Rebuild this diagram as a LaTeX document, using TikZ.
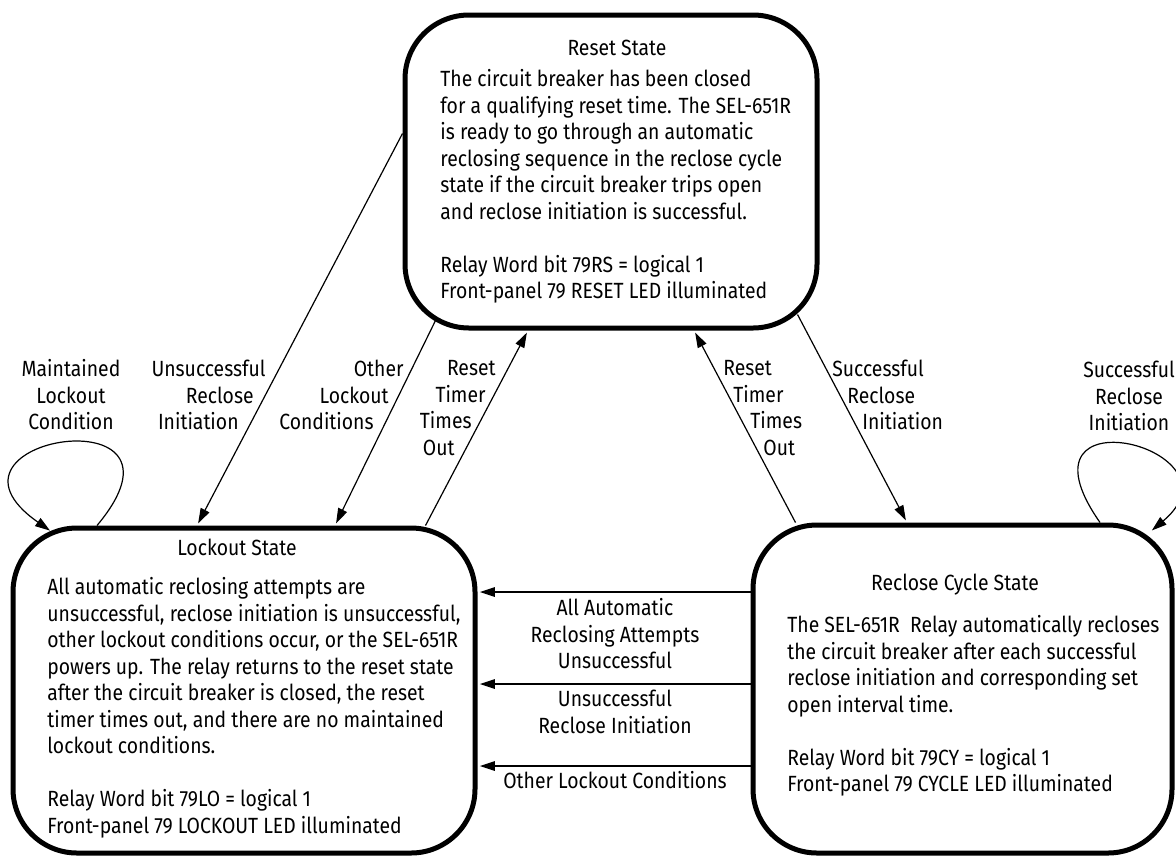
\documentclass[tikz,border=0pt]{standalone}
\usepackage{fontspec}
\setmainfont{Fira Sans}[FakeStretch=0.88]
\usetikzlibrary{arrows.meta}

\newcommand{\txtsize}{\fontsize{11pt}{13.25pt}\selectfont}
\tikzset{
  statebox/.style={draw, line width=2.5pt, rounded corners=32pt, inner sep=0pt},
  trans/.style={-{Triangle[length=7.5pt,width=4.8pt]}, line width=0.6pt, shorten >=1.2pt},
  lbl/.style={inner sep=0pt, font=\txtsize},
}

\begin{document}
\begin{tikzpicture}[x=0.5pt,y=-0.5pt]
\useasboundingbox (0,0) rectangle (1176,857);
%
% the three states
\node[statebox, minimum width=206pt, minimum height=156.5pt] (reset) at (611,171.5) {};
\node[statebox, minimum width=231pt, minimum height=162.5pt] (lockout) at (244,690.5) {};
\node[statebox, minimum width=209.5pt, minimum height=164pt] (recl) at (962.5,689) {};
%
\node[lbl] (resettitle) at (617,48) {Reset State};
\node[lbl, align=left, anchor=north west] (resetbody) at (440,69) {The circuit breaker has been closed\\for a qualifying reset time. The SEL-651R\\is ready to go through an automatic\\reclosing sequence in the reclose cycle\\state if the circuit breaker trips open\\and reclose initiation is successful.\\[13.25pt]Relay Word bit 79RS = logical 1\\Front-panel 79 RESET LED illuminated};
%
\node[lbl] (locktitle) at (237,547) {Lockout State};
\node[lbl, align=left, anchor=north west] (lockbody) at (47,577) {All automatic reclosing attempts are\\unsuccessful, reclose initiation is unsuccessful,\\other lockout conditions occur, or the SEL-651R\\powers up. The relay returns to the reset state\\after the circuit breaker is closed, the reset\\timer times out, and there are no maintained\\lockout conditions.\\[13.25pt]Relay Word bit 79LO = logical 1\\Front-panel 79 LOCKOUT LED illuminated};
%
\node[lbl] (recltitle) at (955,585) {Reclose Cycle State};
\node[lbl, align=left, anchor=north west] (reclbody) at (787,615) {The SEL-651R\ \ Relay automatically recloses\\the circuit breaker after each successful\\reclose initiation and corresponding set\\open interval time.\\[13.25pt]Relay Word bit 79CY = logical 1\\Front-panel 79 CYCLE LED illuminated};
%
% self loops
\coordinate (lkout) at ([xshift=-73.5pt]lockout.north);
\coordinate (lkin) at (52,532);
\draw[trans] (lkout) .. controls +(50:87.5pt) and +(145:82.5pt) .. (lkin);
\coordinate (rcout) at ([xshift=68.75pt]recl.north);
\coordinate (rcin) at (1150,532);
\draw[trans] (rcout) .. controls +(125:82.5pt) and +(40:65pt) .. (rcin);
%
% transitions between the states
\coordinate (unsA) at ([yshift=19pt]reset.west);
\draw[trans] (unsA) -- ([xshift=-23.5pt]lockout.north);
\coordinate (othA) at ([shift={(16.5pt,5pt)}]reset.south west);
\draw[trans] (othA) -- ([xshift=45.5pt]lockout.north);
\coordinate (rtL) at ([xshift=-26pt]lockout.north east);
\draw[trans] (rtL) -- ([xshift=-41.5pt]reset.south);
\coordinate (rtR) at ([xshift=22.5pt]recl.north west);
\draw[trans] (rtR) -- ([xshift=41.5pt]reset.south);
\coordinate (sucA) at ([shift={(-11pt,8pt)}]reset.south east);
\draw[trans] (sucA) -- ([xshift=-27.75pt]recl.north);
%
% macro: arrow from reclose cycle back to lockout, at height
\newcommand{\backarrow}[2]{
  \coordinate (#1) at ([yshift=#2]recl.west);
  \draw[trans] (#1) -- (lockout.east |- #1);
}
\backarrow{allfail}{48.5pt}
\backarrow{initfail}{2.5pt}
\backarrow{otherfail}{-38.5pt}
%
% labels
\node[lbl, align=center] (maintlbl) at (71,395) {Maintained\\Lockout\\Condition};
\node[lbl, align=right, anchor=east] (unslbl) at (266,395) {Unsuccessful\\Reclose\kern6pt\\Initiation\kern13.5pt};
\node[lbl, align=right, anchor=east] (othlbl) at (404,395) {Other\\Lockout\kern7.5pt\\Conditions\kern15pt};
\node[lbl, align=right, anchor=east] (rtLlbl) at (496,408) {Reset\\Timer\kern5pt\\Times\kern12pt\\Out\kern20.5pt};
\node[lbl, align=left, anchor=west] (rtRlbl) at (723,408) {Reset\\\hspace*{5pt}Timer\\\hspace*{13.5pt}Times\\\hspace*{20pt}Out};
\node[lbl, align=left, anchor=west] (suclbl) at (832,395) {Successful\\\hspace*{7.5pt}Reclose\\\hspace*{15pt}Initiation};
\node[lbl, align=center] (sucloop) at (1129,396) {Successful\\Reclose\\Initiation};
\node[lbl, align=center] (allfaillbl) at (615,634) {All Automatic\\Reclosing Attempts\\Unsuccessful};
\node[lbl, align=center] (initfaillbl) at (615,712) {Unsuccessful\\Reclose Initiation};
\node[lbl] (otherfaillbl) at (615,780) {Other Lockout Conditions};
\end{tikzpicture}
\end{document}
